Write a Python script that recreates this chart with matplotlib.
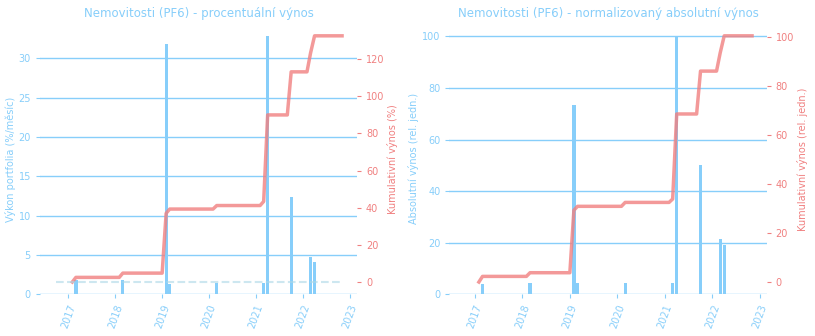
import pandas as pd
import matplotlib.pyplot as plt

# monthly bars (only non-zero months)
bar_dates = ["2017-03-01", "2018-03-01", "2019-02-01", "2019-03-01", "2020-03-01",
             "2021-03-01", "2021-04-01", "2021-10-01", "2022-03-01", "2022-04-01"]
pct_vals = [1.8, 1.8, 31.8, 1.35, 1.4, 1.4, 32.8, 12.4, 4.75, 4.1]
abs_vals = [4.2, 4.3, 73.5, 4.3, 4.3, 4.3, 100.0, 50.0, 21.3, 19.0]

# cumulative line, points where it changes
cum_dates = ["2017-02-01", "2017-03-01", "2018-02-01", "2018-03-01", "2019-01-01",
             "2019-02-01", "2019-03-01", "2020-02-01", "2020-03-01", "2021-02-01",
             "2021-03-01", "2021-04-01", "2021-09-01", "2021-10-01", "2022-02-01",
             "2022-03-01", "2022-04-01", "2022-11-01"]
cum_pct = [0, 2.5, 2.5, 4.8, 4.8, 37.0, 39.3, 39.3, 41.2, 41.2,
           43.4, 90.0, 90.0, 113.2, 113.2, 123.4, 132.6, 132.6]
cum_abs = [0, 2.3, 2.3, 3.8, 3.8, 29.3, 30.9, 30.9, 32.5, 32.5,
           33.9, 68.6, 68.6, 86.1, 86.1, 93.5, 100.5, 100.5]

bar_dates = pd.to_datetime(bar_dates)
cum_dates = pd.to_datetime(cum_dates)

blue = "lightskyblue"
red = "lightcoral"

fig = plt.figure(figsize=(8.15, 3.36), dpi=100)
ax_l = fig.add_axes([0.049, 0.124, 0.389, 0.806])
ax_r = fig.add_axes([0.5515, 0.124, 0.389, 0.806])


def draw(ax, vals, cum, title, ylab, ylab2, xlim, dashed):
    ax.bar(bar_dates, vals, width=25, color=blue)
    ax.grid(axis="y", color=blue, linewidth=1.0)
    ax.set_axisbelow(True)
    ax.set_title(title, color=blue, fontsize=8.5, pad=5)
    ax.set_ylabel(ylab, color=blue, fontsize=7, labelpad=2)
    ax.tick_params(axis="both", colors=blue, labelsize=7, length=3)
    ax.tick_params(axis="x", labelrotation=70)
    ax.set_xlim(pd.Timestamp(xlim[0]), pd.Timestamp(xlim[1]))
    for s in ax.spines.values():
        s.set_visible(False)

    ax2 = ax.twinx()
    ax2.plot(cum_dates, cum, color=red, linewidth=2.5, alpha=0.8)
    if dashed:
        ax2.axhline(0, xmin=0.05, xmax=0.95, color="lightblue", linestyle="--",
                    linewidth=1.5, alpha=0.6)
    ax2.set_ylabel(ylab2, color=red, fontsize=7, labelpad=2)
    ax2.tick_params(axis="y", colors=red, labelsize=7, length=3)
    for s in ax2.spines.values():
        s.set_visible(False)
    return ax2


draw(ax_l, pct_vals, cum_pct, "Nemovitosti (PF6) - procentuální výnos",
     "Výkon portfolia (%/měsíc)", "Kumulativní výnos (%)",
     ("2016-05-25", "2023-02-25"), True)
draw(ax_r, abs_vals, cum_abs, "Nemovitosti (PF6) - normalizovaný absolutní výnos",
     "Absolutní výnos (rel. jedn.)", "Kumulativní výnos (rel. jedn.)",
     ("2016-06-20", "2023-02-20"), False)

fig.savefig("out.png", dpi=100)
